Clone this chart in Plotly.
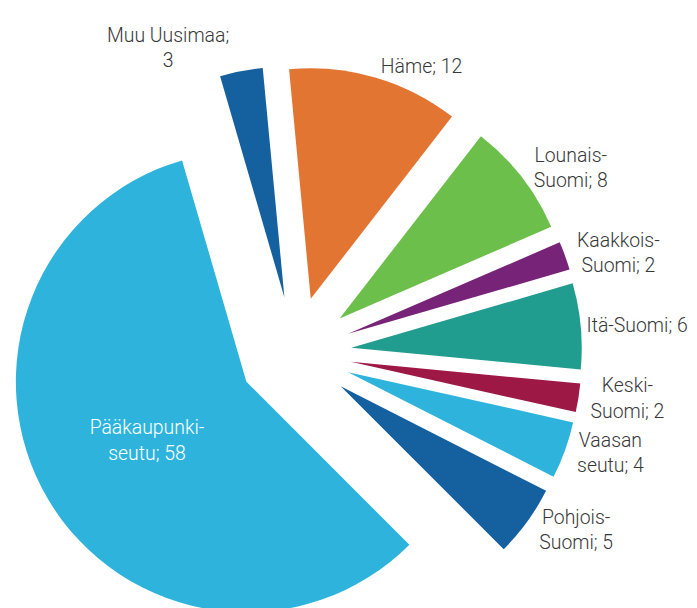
import plotly.graph_objects as go

categories = ["Muu Uusimaa", "Häme", "Lounais-Suomi", "Kaakkois-Suomi", "Itä-Suomi",
              "Keski-Suomi", "Vaasan seutu", "Pohjois-Suomi", "Pääkaupunkiseutu"]
values = [3, 12, 8, 2, 6, 2, 4, 5, 58]
label_prefix = ["Muu Uusimaa;<br>", "Häme; ", "Lounais-<br>Suomi; ", "Kaakkois-<br>Suomi; ",
                "Itä-Suomi; ", "Keski-<br>Suomi; ", "Vaasan<br>seutu; ", "Pohjois-<br>Suomi; ",
                "Pääkaupunki-<br>seutu; "]
colors = ["#1561a0", "#e37533", "#6cbf4a", "#772378", "#219d8f",
          "#9e1845", "#2eb4dc", "#1561a0", "#2eb4dc"]
text_pos = ["outside"] * 8 + ["inside"]

texts = [p + str(v) for p, v in zip(label_prefix, values)]

# page body has an 8px margin, so the figure is laid out 8px up/left
W, H = 697, 700
cx, cy, half = 287, 345, 287

fig = go.Figure(go.Pie(
    labels=categories,
    values=values,
    text=texts,
    textinfo="text",
    textposition=text_pos,
    automargin=False,
    sort=False,
    direction="clockwise",
    rotation=-16.2,
    pull=[0.245] * len(values),
    marker=dict(colors=colors, line=dict(width=0)),
    outsidetextfont=dict(family="Roboto", size=19.4, color="#383838", weight=300),
    insidetextfont=dict(family="Roboto", size=19.4, color="#ffffff", weight=300),
    insidetextorientation="horizontal",
    domain=dict(x=[(cx - half) / W, (cx + half) / W],
                y=[1 - (cy + half) / H, 1 - (cy - half) / H]),
    showlegend=False,
    hoverinfo="label+value",
))

fig.update_layout(
    width=W, height=H,
    margin=dict(l=0, r=0, t=0, b=0, autoexpand=False),
    paper_bgcolor="white",
    plot_bgcolor="white",
    showlegend=False,
)

fig.write_html("out.html")
